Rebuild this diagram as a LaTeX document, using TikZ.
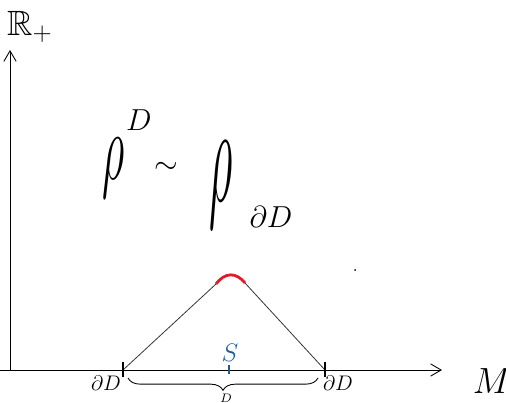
\documentclass[tikz,border=0pt]{standalone}
\usepackage{amsmath}
\usepackage{amssymb}
\usetikzlibrary{arrows.meta, positioning, decorations.pathreplacing}
\definecolor{capcolor}{RGB}{225, 30, 40}
\definecolor{sourcecolor}{RGB}{30, 90, 150}

\begin{document}
\begin{tikzpicture}[
    x=0.02cm, y=-0.02cm,
    axis/.style={draw, line width=0.5pt, -{Straight Barb[length=6pt, width=7pt]}},
    slope/.style={draw, line width=0.45pt, black!80},
    tick/.style={draw, line width=1.6pt},
    mark label/.style={font=\large},
    rho/.style={inner sep=0pt, font=\fontsize{24}{28}\selectfont},
    script/.style={inner sep=0pt, font=\fontsize{16}{19}\selectfont}
]
\useasboundingbox (0,0) rectangle (506,402);

% Axes
\coordinate (origin) at (10,370);
\coordinate (yend) at (10,50);
\coordinate (xstart) at (0,370);
\coordinate (xend) at (442,370);
\draw[axis] (origin) -- (yend);
\draw[axis] (xstart) -- (xend);
\node[inner sep=0pt, font=\fontsize{20}{24}\selectfont] (rplus) at (30,27) {$\mathbb{R}_+$};
\node[inner sep=0pt, font=\fontsize{20}{24}\selectfont] (mspace) at (492,381) {$M$};

% Density relation
\node[rho] (rhoD) at (114,168) {\scalebox{1}[2.2]{$\rho$}};
\node[script] (supD) at (139,120) {$D$};
\node[inner sep=0pt, font=\LARGE] (sim) at (166,168) {$\sim$};
\node[rho] (rhodD) at (221,185) {\scalebox{1.05}[3.2]{$\rho$}};
\node[script] (subdD) at (271,217) {$\partial D$};

% Tent profile
\coordinate (dleft) at (123,370);
\coordinate (dright) at (325,370);
\coordinate (capl) at (216,284);
\coordinate (capr) at (245,283);
\draw[slope] (dleft) -- (capl);
\draw[slope] (capr) -- (dright);
\draw[capcolor, line width=1.6pt] (capl) .. controls (225,272) and (236,272) .. (capr);

% Boundary ticks
\draw[tick] (123,362) -- (123,377);
\draw[tick] (325,362) -- (325,377);
\node[mark label] (dl) at (106,383) {$\partial D$};
\node[mark label] (dr) at (338,383) {$\partial D$};

% Source point
\draw[tick, sourcecolor] (229,365) -- (229,374);
\node[font=\Large, sourcecolor] (src) at (230,353) {$S$};

% Domain brace
\draw[decorate, decoration={brace, mirror, amplitude=7pt}, line width=0.5pt] (128,378) -- (318,378);
\node[font=\scriptsize] (dom) at (226,398) {$D$};

% stray dot
\fill (355,270) circle (1);
\end{tikzpicture}
\end{document}
